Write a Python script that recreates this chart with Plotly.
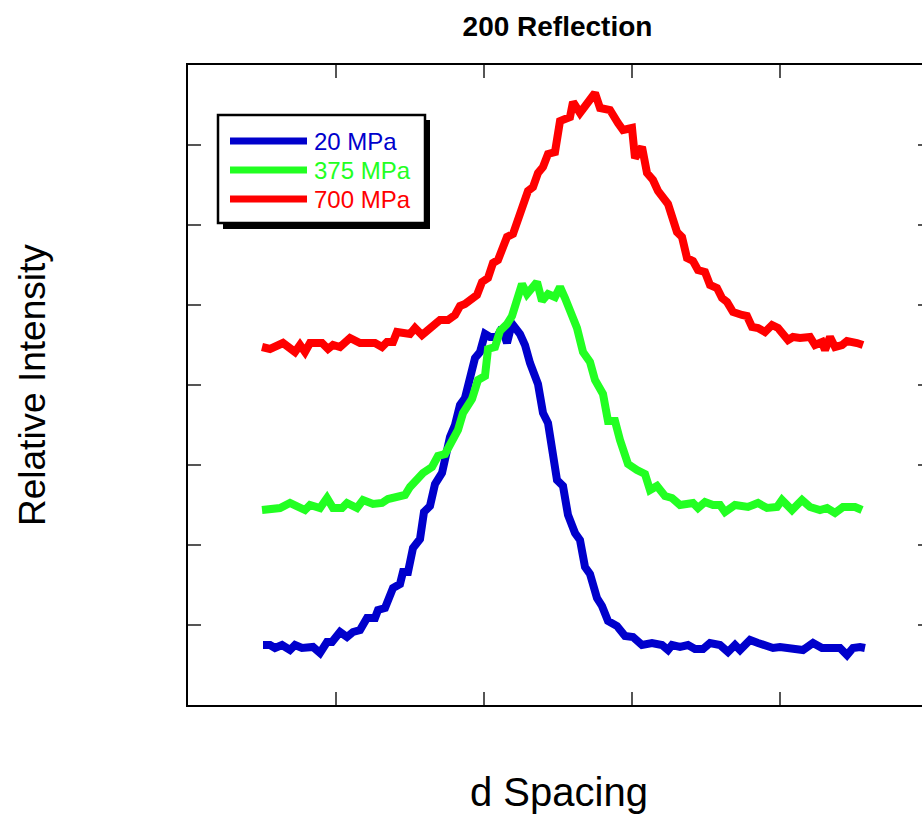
import plotly.graph_objects as go

# ---- data (arbitrary units) ----
d_20 = [75, 82, 87, 94, 102, 107, 114, 125, 132, 139, 144, 152, 159, 165, 172, 179, 187, 190, 197, 205,
        212, 215, 220, 225, 232, 236, 242, 247, 254, 259, 262, 267, 272, 277, 282, 287, 292, 297, 302, 309,
        314, 319, 322, 325, 332, 337, 342, 347, 350, 355, 360, 369, 375, 380, 387, 392, 397, 402, 409, 414,
        420, 429, 437, 445, 454, 464, 474, 480, 484, 492, 500, 507, 515, 522, 527, 532, 540, 547, 552, 562,
        570, 580, 585, 592, 602, 615, 625, 634, 644, 652, 659, 665, 672, 677]
i_20 = [60, 60, 57, 60, 55, 60, 57, 58, 52, 63, 63, 73, 68, 73, 75, 87, 87, 95, 97, 117,
        121, 133, 133, 157, 166, 193, 199, 221, 232, 258, 268, 280, 300, 307, 325, 347, 353, 371, 368, 368,
        377, 362, 374, 380, 371, 360, 342, 325, 321, 292, 282, 225, 219, 190, 172, 165, 138, 131, 107, 99,
        84, 79, 69, 68, 60, 62, 60, 55, 60, 58, 60, 56, 56, 62, 62, 60, 53, 60, 55, 65,
        62, 60, 57, 58, 57, 55, 62, 57, 57, 57, 50, 57, 58, 57]

d_375 = [74, 84, 92, 102, 109, 117, 122, 132, 139, 145, 154, 159, 169, 175, 185, 194, 200, 209, 217, 222,
         229, 235, 244, 250, 257, 264, 270, 275, 284, 290, 297, 300, 307, 312, 319, 324, 329, 334, 339, 345,
         349, 354, 360, 367, 372, 377, 382, 389, 395, 402, 407, 415, 420, 427, 432, 440, 449, 457, 462, 469,
         477, 484, 492, 500, 505, 510, 517, 525, 532, 537, 547, 560, 570, 579, 589, 594, 604, 614, 622, 632,
         639, 647, 655, 667, 674]
i_375 = [195, 196, 197, 202, 198, 195, 200, 197, 207, 197, 197, 202, 197, 205, 201, 202, 206, 209, 210, 218,
         225, 232, 238, 249, 251, 265, 275, 292, 306, 325, 329, 356, 358, 374, 381, 389, 405, 421, 411, 418,
         423, 404, 411, 408, 418, 407, 393, 377, 353, 343, 325, 311, 284, 284, 265, 241, 235, 231, 215, 219,
         209, 207, 200, 202, 202, 197, 203, 200, 200, 193, 200, 198, 202, 197, 198, 205, 195, 205, 198, 195,
         197, 192, 198, 198, 195]

d_700 = [74, 82, 95, 107, 112, 117, 122, 134, 140, 145, 152, 162, 172, 187, 194, 199, 205, 209, 222, 227,
         234, 244, 252, 260, 267, 272, 277, 289, 294, 300, 305, 310, 319, 325, 332, 340, 345, 350, 355, 360,
         367, 372, 382, 385, 392, 399, 407, 412, 422, 430, 435, 444, 447, 454, 459, 465, 470, 480, 489, 494,
         499, 505, 510, 517, 522, 529, 534, 539, 545, 554, 559, 564, 570, 577, 584, 590, 600, 605, 612, 622,
         627, 634, 637, 642, 647, 654, 659, 669, 675]
i_700 = [358, 356, 362, 353, 360, 353, 362, 362, 356, 360, 358, 367, 362, 362, 358, 363, 363, 373, 371, 377,
         370, 378, 385, 385, 390, 399, 401, 410, 423, 427, 442, 445, 468, 471, 492, 514, 518, 532, 538, 551,
         553, 584, 588, 603, 592, 603, 612, 597, 595, 582, 575, 577, 547, 558, 532, 525, 514, 501, 473, 468,
         447, 444, 435, 433, 420, 417, 407, 403, 393, 390, 389, 378, 377, 373, 380, 377, 365, 368, 367, 368,
         360, 363, 355, 368, 358, 360, 364, 362, 360]

series_names = ["20 MPa", "375 MPa", "700 MPa"]
series_colors = ["#0000CC", "#22FF22", "#FF0000"]
x_ticks = [148, 296, 444, 592]
y_ticks = [80, 160, 240, 320, 400, 480, 560]

W, H = 922, 818
L, R, T, B = 188, 0, 65, 113
PW, PH = W - L - R, H - T - B
FONT = "Arial, Liberation Sans, Helvetica, sans-serif"


def px(xp):
    return (xp - L) / PW


def py(yp):
    return (H - B - yp) / PH


fig = go.Figure()
for xs, ys, name, col in zip([d_20, d_375, d_700], [i_20, i_375, i_700], series_names, series_colors):
    fig.add_trace(go.Scatter(x=xs, y=ys, mode="lines", name=name,
                             line=dict(color=col, width=8), showlegend=False))
# empty trace so the right-hand (mirror) tick axis is drawn
fig.add_trace(go.Scatter(x=[], y=[], yaxis="y2", showlegend=False, hoverinfo="skip"))

fig.update_layout(
    width=W, height=H,
    margin=dict(l=L, r=R, t=T, b=B, pad=0),
    paper_bgcolor="white", plot_bgcolor="white",
    font=dict(family=FONT, color="black"),
    title=dict(text="<b>200 Reflection</b>", font=dict(size=28, family=FONT, color="black"),
               x=557.5 / W, xref="container", xanchor="center",
               y=1 - 26 / H, yref="container", yanchor="middle"),
    xaxis=dict(range=[0, PW], tickvals=x_ticks, showticklabels=False, showgrid=False, zeroline=False,
               ticks="inside", ticklen=13, tickwidth=1.5, tickcolor="#555555",
               showline=True, linecolor="black", linewidth=1.5, mirror="ticks"),
    yaxis=dict(range=[0, PH], tickvals=y_ticks, showticklabels=False, showgrid=False, zeroline=False,
               ticks="inside", ticklen=13, tickwidth=1.5, tickcolor="#555555",
               showline=True, linecolor="black", linewidth=1.5, mirror=False),
    yaxis2=dict(range=[0, PH], tickvals=y_ticks, showticklabels=False, showgrid=False, zeroline=False,
                overlaying="y", side="right", ticks="inside", ticklen=4, tickwidth=1.5,
                tickcolor="#555555", showline=False),
    showlegend=False,
)

# axis titles
fig.add_annotation(text="d Spacing", xref="paper", yref="paper", x=px(558.5), y=py(792),
                   xanchor="center", yanchor="middle", showarrow=False,
                   font=dict(size=40, family=FONT, color="black"))
fig.add_annotation(text="Relative Intensity", xref="paper", yref="paper", x=px(32), y=py(385),
                   xanchor="center", yanchor="middle", showarrow=False, textangle=-90,
                   font=dict(size=37, family=FONT, color="black"))

# legend box (with drop shadow)
fig.add_shape(type="rect", xref="paper", yref="paper", x0=px(223), x1=px(430), y0=py(120), y1=py(229),
              fillcolor="black", line=dict(width=0), layer="above")
fig.add_shape(type="rect", xref="paper", yref="paper", x0=px(218), x1=px(425), y0=py(115), y1=py(223),
              fillcolor="white", line=dict(color="black", width=2.5), layer="above")
for k, (name, col) in enumerate(zip(series_names, series_colors)):
    yy = 141 + 29 * k
    fig.add_shape(type="line", xref="paper", yref="paper", x0=px(230), x1=px(307), y0=py(yy), y1=py(yy),
                  line=dict(color=col, width=7), layer="above")
    fig.add_annotation(text=name, xref="paper", yref="paper", x=px(312), y=py(yy),
                       xanchor="left", yanchor="middle", showarrow=False,
                       font=dict(size=24, family=FONT, color=col))

fig.write_html("out.html")
